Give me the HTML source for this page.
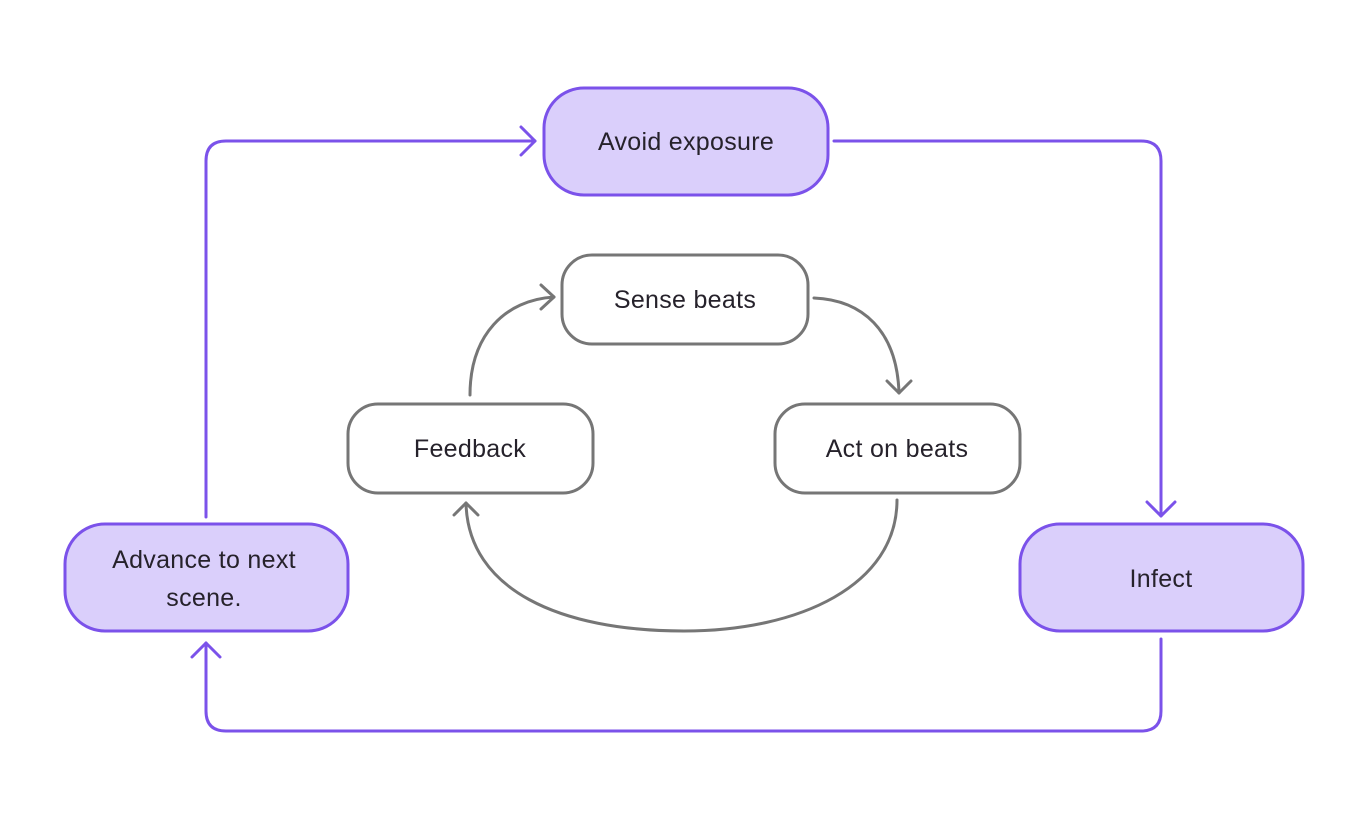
<!DOCTYPE html>
<html><head><meta charset="utf-8"><style>
html,body{margin:0;padding:0;background:#fff;}
svg{display:block}
text{font-family:"Liberation Sans",sans-serif;font-size:25px;letter-spacing:0.3px;fill:#26222b;text-anchor:middle;dominant-baseline:central}
</style></head><body>
<svg width="1368" height="825" viewBox="0 0 1368 825" xmlns="http://www.w3.org/2000/svg">
<g fill="none" stroke="#7b52ea" stroke-width="3" stroke-linecap="round" stroke-linejoin="round">
<path d="M206,517 V161 Q206,141 226,141 H535"/>
<path d="M521,127 L535,141 L521,155"/>
<path d="M834,141 H1141 Q1161,141 1161,161 V516"/>
<path d="M1147,502 L1161,516 L1175,502"/>
<path d="M1161,639 V711 Q1161,731 1141,731 H226 Q206,731 206,711 V643"/>
<path d="M192,657 L206,643 L220,657"/>
</g>
<g fill="#dacffb" stroke="#7b52ea" stroke-width="3">
<rect x="544" y="88" width="284" height="107" rx="40"/>
<rect x="65" y="524" width="283" height="107" rx="40"/>
<rect x="1020" y="524" width="283" height="107" rx="40"/>
</g>
<g fill="none" stroke="#767676" stroke-width="3" stroke-linecap="round" stroke-linejoin="round">
<path d="M470,395 C470,335 505,300 554,297"/>
<path d="M541,285 L554,297 L541,309"/>
<path d="M814,298 C862,300 897,330 899,393"/>
<path d="M887,381 L899,393 L911,381"/>
<path d="M897,500 C897,585 800,631 684,631 C560,631 468,590 466,503"/>
<path d="M454,515 L466,503 L478,515"/>
</g>
<g fill="#fff" stroke="#767676" stroke-width="3">
<rect x="562" y="255" width="246" height="89" rx="30"/>
<rect x="348" y="404" width="245" height="89" rx="30"/>
<rect x="775" y="404" width="245" height="89" rx="30"/>
</g>
<text x="686" y="142">Avoid exposure</text>
<text x="685" y="300">Sense beats</text>
<text x="470" y="449">Feedback</text>
<text x="897" y="449">Act on beats</text>
<text x="204" y="560">Advance to next</text>
<text x="204" y="598">scene.</text>
<text x="1161" y="579">Infect</text>
</svg>
</body></html>
